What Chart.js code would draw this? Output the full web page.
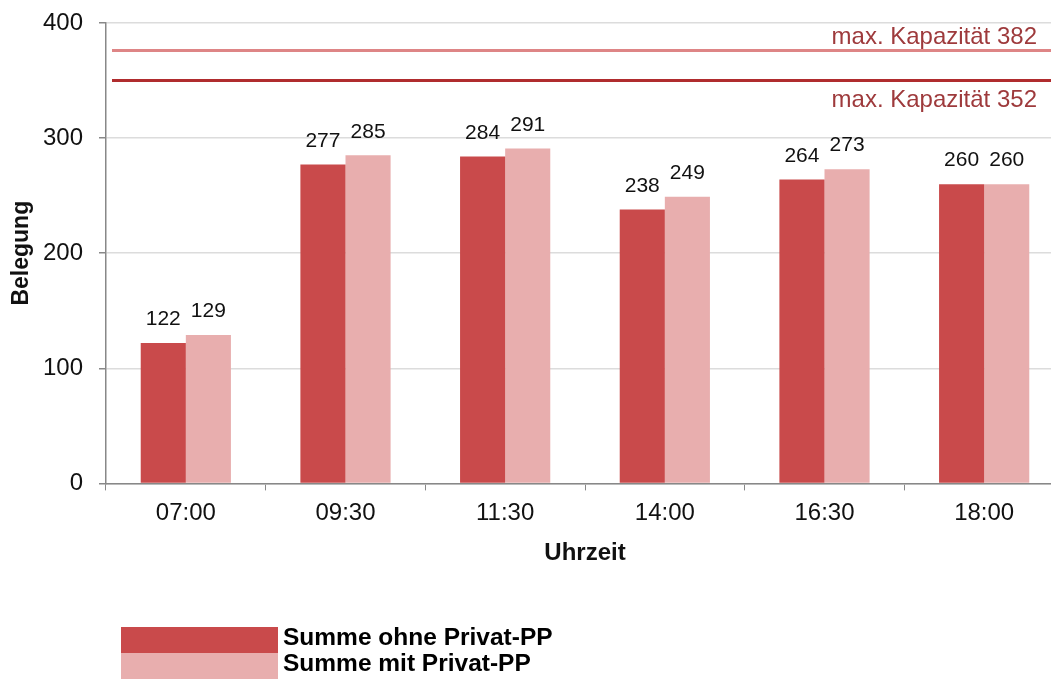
<!DOCTYPE html>
<html>
<head>
<meta charset="utf-8">
<script src="https://cdn.jsdelivr.net/npm/chart.js@4"></script>
<style>
  html, body { margin: 0; padding: 0; background: #fff; overflow: hidden; }
  #wrap { position: relative; width: 1064px; height: 679px; }
  #legend { position: absolute; left: 121px; top: 627px; font-family: "Liberation Sans", Arial, sans-serif; font-weight: bold; font-size: 24.5px; color: #000; }
  .item { display: flex; align-items: center; height: 26px; }
  .item span.txt { position: relative; top: -3px; }
  .box { width: 157px; height: 26px; margin-right: 5px; }
</style>
</head>
<body>
<div id="wrap">
  <canvas id="barChart" width="1064" height="679"></canvas>
  <div id="legend"></div>
</div>
<script>
// categories and values
var times = ['07:00', '09:30', '11:30', '14:00', '16:30', '18:00'];
var ohnePrivat = [122, 277, 284, 238, 264, 260];
var mitPrivat = [129, 285, 291, 249, 273, 260];
var seriesNames = ['Summe ohne Privat-PP', 'Summe mit Privat-PP'];
var seriesColors = ['#c94a4b', '#e8aeae'];

// capacity lines: stated value and where they are drawn
var capacityText = [382, 352];
var capacityLevel = [376, 350];
var capacityColors = ['#de8586', '#b02c2e'];

var font = '"Liberation Sans", Arial, sans-serif';

document.addEventListener('DOMContentLoaded', function () {
    // draws the values above each bar
    var valueLabels = {
        id: 'valueLabels',
        afterDatasetsDraw: function (chart) {
            var ctx = chart.ctx;
            ctx.save();
            ctx.font = '21px ' + font;
            ctx.fillStyle = '#111';
            ctx.textAlign = 'center';
            ctx.textBaseline = 'bottom';
            chart.data.datasets.forEach(function (ds, i) {
                chart.getDatasetMeta(i).data.forEach(function (bar, j) {
                    ctx.fillText(ds.data[j], bar.x, bar.y - 13);
                });
            });
            ctx.restore();
        }
    };

    // horizontal capacity lines across the plot
    var capacityLines = {
        id: 'capacityLines',
        afterDatasetsDraw: function (chart) {
            var ctx = chart.ctx;
            var y = chart.scales.y;
            var area = chart.chartArea;
            ctx.save();
            capacityLevel.forEach(function (v, i) {
                var py = y.getPixelForValue(v);
                ctx.strokeStyle = capacityColors[i];
                ctx.lineWidth = 3;
                ctx.beginPath();
                ctx.moveTo(area.left + 6, py);
                ctx.lineTo(area.right, py);
                ctx.stroke();
                ctx.font = '24px ' + font;
                ctx.fillStyle = '#9e3a3c';
                ctx.textAlign = 'right';
                if (i === 0) {
                    ctx.textBaseline = 'alphabetic';
                    ctx.fillText('max. Kapazität ' + capacityText[i], 1037, py - 7);
                } else {
                    ctx.textBaseline = 'top';
                    ctx.fillText('max. Kapazität ' + capacityText[i], 1037, py + 8);
                }
            });
            ctx.restore();
        }
    };

    var data = {
        labels: times,
        datasets: [{
            label: seriesNames[0],
            data: ohnePrivat,
            backgroundColor: seriesColors[0],
            categoryPercentage: 0.565,
            barPercentage: 1.0
        }, {
            label: seriesNames[1],
            data: mitPrivat,
            backgroundColor: seriesColors[1],
            categoryPercentage: 0.565,
            barPercentage: 1.0
        }]
    };

    var options = {
        responsive: false,
        animation: false,
        layout: {
            padding: { top: 23, right: 0, left: 0, bottom: 111 }
        },
        scales: {
            x: {
                grid: {
                    offset: true,
                    drawOnChartArea: false,
                    drawTicks: true,
                    tickLength: 7,
                    color: '#888'
                },
                border: { color: '#888', width: 1.5 },
                ticks: { color: '#111', font: { family: font, size: 24 }, padding: 9 },
                title: {
                    display: true,
                    text: 'Uhrzeit',
                    color: '#111',
                    font: { family: font, size: 24, weight: 'bold' },
                    padding: { top: 2, bottom: 0 }
                }
            },
            y: {
                min: 0,
                max: 400,
                afterFit: function (scale) {
                    scale.width = 106;
                    scale.paddingTop = 0;
                    scale.paddingBottom = 0;
                },
                ticks: { stepSize: 100, color: '#111', font: { family: font, size: 24 }, padding: 16 },
                grid: { color: '#dcdcdc', lineWidth: 1.5, tickLength: 7, tickColor: '#888' },
                border: { color: '#888', width: 1.5 },
                title: {
                    display: true,
                    text: 'Belegung',
                    color: '#111',
                    font: { family: font, size: 23, weight: 'bold' },
                    padding: { top: 8, bottom: 7 }
                }
            }
        },
        plugins: {
            legend: { display: false },
            tooltip: { enabled: false }
        }
    };

    var ctx = document.getElementById('barChart').getContext('2d');
    new Chart(ctx, {
        type: 'bar',
        data: data,
        options: options,
        plugins: [capacityLines, valueLabels]
    });

    // legend below the chart, stacked like the original
    var legend = document.getElementById('legend');
    seriesNames.forEach(function (name, i) {
        var row = document.createElement('div');
        row.className = 'item';
        var box = document.createElement('span');
        box.className = 'box';
        box.style.background = seriesColors[i];
        var label = document.createElement('span');
        label.className = 'txt';
        label.textContent = name;
        row.appendChild(box);
        row.appendChild(label);
        legend.appendChild(row);
    });
});
</script>
</body>
</html>
